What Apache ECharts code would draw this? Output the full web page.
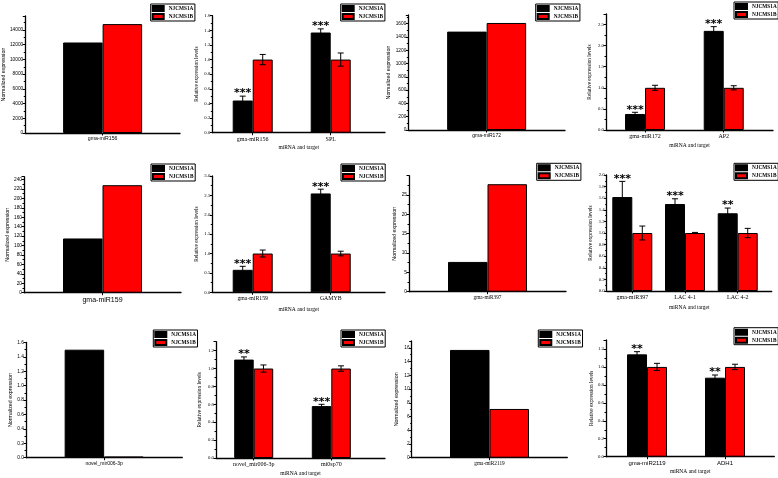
<!DOCTYPE html>
<html><head><meta charset="utf-8">
<script src="https://cdn.jsdelivr.net/npm/echarts@6/dist/echarts.min.js"></script>
<style>html,body{margin:0;padding:0;background:#fff}#c{width:778px;height:478px}</style>
</head><body><div id="c"></div>
<script>
// ---------------- data ----------------
const seriesNames = ['NJCMS1A', 'NJCMS1B'];
const yNameNorm = 'Normalized expression';
const yNameRel = 'Relative expression levels';
const xNameRel = 'miRNA and target';

const p1Cats = ['gma-miR156'];
const p1A = [12300];
const p1B = [14800];

const p2Cats = ['gma-miR156', 'SPL'];
const p2A = [0.44, 1.37];
const p2B = [1.0, 1.0];
const p2ErrA = [0.06, 0.05];
const p2ErrB = [0.07, 0.09];
const p2Stars = ['***', '***'];

const p3Cats = ['gma-miR172'];
const p3A = [1480];
const p3B = [1610];

const p4Cats = ['gma-miR172', 'AP2'];
const p4A = [0.38, 2.35];
const p4B = [1.0, 1.0];
const p4ErrA = [0.04, 0.10];
const p4ErrB = [0.06, 0.05];
const p4Stars = ['***', '***'];

const p5Cats = ['gma-miR159'];
const p5A = [115];
const p5B = [228];

const p6Cats = ['gma-miR159', 'GAMYB'];
const p6A = [0.58, 2.55];
const p6B = [1.0, 1.0];
const p6ErrA = [0.09, 0.11];
const p6ErrB = [0.09, 0.06];
const p6Stars = ['***', '***'];

const p7Cats = ['gma-miR397'];
const p7A = [7.7];
const p7B = [27.8];

const p8Cats = ['gma-miR397', 'LAC 4-1', 'LAC 4-2'];
const p8A = [1.62, 1.50, 1.34];
const p8B = [1.0, 1.0, 1.0];
const p8ErrA = [0.27, 0.09, 0.09];
const p8ErrB = [0.12, 0.01, 0.08];
const p8Stars = ['***', '***', '**'];

const p9Cats = ['novel_mir006-3p'];
const p9A = [1.5];
const p9B = [0.015];

const p10Cats = ['novel_mir006-3p', 'mi0sp70'];
const p10A = [1.10, 0.58];
const p10B = [1.0, 1.0];
const p10ErrA = [0.03, 0.02];
const p10ErrB = [0.04, 0.03];
const p10Stars = ['**', '***'];

const p11Cats = ['gma-miR2119'];
const p11A = [15.7];
const p11B = [7.1];

const p12Cats = ['gma-miR2119', 'ADH1'];
const p12A = [1.14, 0.88];
const p12B = [1.0, 1.0];
const p12ErrA = [0.03, 0.03];
const p12ErrB = [0.04, 0.03];
const p12Stars = ['**', '**'];

const panels = [
  {cats: p1Cats, a: p1A, b: p1B},
  {cats: p2Cats, a: p2A, b: p2B, ea: p2ErrA, eb: p2ErrB, stars: p2Stars},
  {cats: p3Cats, a: p3A, b: p3B},
  {cats: p4Cats, a: p4A, b: p4B, ea: p4ErrA, eb: p4ErrB, stars: p4Stars},
  {cats: p5Cats, a: p5A, b: p5B},
  {cats: p6Cats, a: p6A, b: p6B, ea: p6ErrA, eb: p6ErrB, stars: p6Stars},
  {cats: p7Cats, a: p7A, b: p7B},
  {cats: p8Cats, a: p8A, b: p8B, ea: p8ErrA, eb: p8ErrB, stars: p8Stars},
  {cats: p9Cats, a: p9A, b: p9B},
  {cats: p10Cats, a: p10A, b: p10B, ea: p10ErrA, eb: p10ErrB, stars: p10Stars},
  {cats: p11Cats, a: p11A, b: p11B},
  {cats: p12Cats, a: p12A, b: p12B, ea: p12ErrA, eb: p12ErrB, stars: p12Stars}
];

// ---------------- layout / style ----------------
const SANS = '"Liberation Sans", Arial, sans-serif';
const SERIF = '"Liberation Serif", "Times New Roman", serif';
const layout = [
  {l:23,   t:16,    r:180,   b:133,   x0:0,     x1:2,     yMax:15900, yInt:2000, dec:0, hideMax:true,  bw:39.5, rel:false, yGap:12.5, catF:5.2, catSerif:false, lg:[150.7,4]},
  {l:212.3,t:15.7,  r:385,   b:132.7, x0:0.482, x1:2.696, yMax:1.6,   yInt:0.2,  dec:1, hideMax:false, bw:20,   rel:true,  yGap:13,   catF:6,   catSerif:true,  xGap:12,  lg:[340.7,4]},
  {l:408.3,t:15,    r:565,   b:130,   x0:0,     x1:2,     yMax:1730,  yInt:200,  dec:0, hideMax:true,  bw:39.5, rel:false, yGap:17,   catF:5,   catSerif:false, lg:[535.7,4]},
  {l:606,  t:14,    r:773,   b:130,   x0:0.504, x1:2.626, yMax:2.75,  yInt:0.5,  dec:1, hideMax:true,  bw:20,   rel:true,  yGap:13.5, catF:6,   catSerif:true,  xGap:12.5,lg:[734,2]},
  {l:24,   t:176.7, r:181,   b:292.7, x0:0,     x1:2,     yMax:246,   yInt:20,   dec:0, hideMax:true,  bw:39.5, rel:false, yGap:14,   catF:7,   catSerif:false, lg:[151,164]},
  {l:212.3,t:176,   r:385,   b:292.3, x0:0.482, x1:2.696, yMax:3,     yInt:0.5,  dec:1, hideMax:false, bw:20,   rel:true,  yGap:13,   catF:5.8, catSerif:true,  xGap:14.5,lg:[341,164]},
  {l:409,  t:175.7, r:566,   b:291.7, x0:0,     x1:2,     yMax:30,    yInt:5,    dec:0, hideMax:true,  bw:39.5, rel:false, yGap:11.5, catF:5.3, catSerif:true,  lg:[536.7,163.3]},
  {l:606.7,t:175,   r:771.7, b:291,   x0:0.514, x1:3.645, yMax:2,     yInt:0.2,  dec:1, hideMax:false, bw:20,   rel:true,  yGap:14,   catF:6,   catSerif:true,  xGap:13.5,lg:[734,163.3]},
  {l:26,   t:342.5, r:182.3, b:457.7, x0:0,     x1:2,     yMax:1.6,   yInt:0.2,  dec:1, hideMax:false, bw:39.5, rel:false, yGap:11.5, catF:5,   catSerif:false, lg:[153.3,330]},
  {l:216,  t:341.7, r:385,   b:458.3, x0:0.514, x1:2.692, yMax:1.3,   yInt:0.2,  dec:1, hideMax:true,  bw:19.5, rel:true,  yGap:13.5, catF:6,   catSerif:true,  xGap:13,  lg:[341,330]},
  {l:411.7,t:341,   r:567.3, b:457.7, x0:0,     x1:2,     yMax:17,    yInt:2,    dec:0, hideMax:true,  bw:39.5, rel:false, yGap:12.5, catF:5.3, catSerif:true,  lg:[538.3,330]},
  {l:606,  t:340,   r:774.3, b:456.7, x0:0.474, x1:2.632, yMax:1.3,   yInt:0.2,  dec:1, hideMax:true,  bw:20,   rel:true,  yGap:12,   catF:6,   catSerif:false, xGap:12,  lg:[734,327.7]}
];

const option = {
  backgroundColor: '#ffffff',
  animation: false,
  grid: [], xAxis: [], yAxis: [], legend: [], series: []
};

panels.forEach((p, i) => {
  const L = layout[i];
  const ff = L.rel ? SERIF : SANS;
  const centers = p.cats.map((c, k) => k + 1);
  option.grid.push({left: L.l, top: L.t, width: L.r - L.l, height: L.b - L.t, containLabel: false});
  option.xAxis.push({
    type: 'value', gridIndex: i, min: L.x0, max: L.x1,
    name: L.rel ? xNameRel : '', nameLocation: 'middle', nameGap: L.xGap || 10,
    nameTextStyle: {fontFamily: SERIF, fontSize: 5.5, color: '#000'},
    axisLine: {show: true, onZero: false, lineStyle: {color: '#000', width: 1.3}},
    axisTick: {show: true, customValues: centers, length: 2.5, lineStyle: {color: '#000', width: 1}},
    axisLabel: {show: true, customValues: centers, margin: 3.5,
      formatter: v => p.cats[Math.round(v) - 1] || '',
      fontFamily: L.catSerif ? SERIF : SANS, fontSize: L.catF, color: '#000'},
    splitLine: {show: false}
  });
  option.yAxis.push({
    type: 'value', gridIndex: i, min: 0, max: L.yMax, interval: L.yInt,
    name: L.rel ? yNameRel : yNameNorm, nameLocation: 'middle', nameGap: L.yGap,
    nameTextStyle: {fontFamily: ff, fontSize: 5.3, color: '#000'},
    axisLine: {show: true, lineStyle: {color: '#000', width: 1.3}},
    axisTick: {show: true, length: 2.5, lineStyle: {color: '#000', width: 1}},
    minorTick: {show: true, splitNumber: 2, length: 1.5, lineStyle: {color: '#000', width: 1}},
    axisLabel: {fontFamily: ff, fontSize: 4.8, color: '#000', margin: 2,
      showMaxLabel: L.hideMax ? false : true,
      formatter: v => Number(v).toFixed(L.dec)},
    splitLine: {show: false}
  });
  option.legend.push({
    data: seriesNames, left: L.lg[0], top: L.lg[1], orient: 'vertical',
    icon: 'rect', itemWidth: 11, itemHeight: 5, itemGap: 1,
    padding: [1, 1.5, 1, 1], borderColor: '#000', borderWidth: 1, selectedMode: false,
    textStyle: {fontFamily: SERIF, fontWeight: 'bold', fontSize: 5.3, color: '#000', lineHeight: 5.5}
  });
  option.series.push({
    type: 'bar', name: seriesNames[0], xAxisIndex: i, yAxisIndex: i,
    data: p.a.map((v, k) => [k + 1, v]), barWidth: L.bw, barGap: '0%',
    itemStyle: {color: '#000000', borderColor: '#000', borderWidth: 1}
  });
  option.series.push({
    type: 'bar', name: seriesNames[1], xAxisIndex: i, yAxisIndex: i,
    data: p.b.map((v, k) => [k + 1, v]), barWidth: L.bw, barGap: '0%',
    itemStyle: {color: '#ff0000', borderColor: '#000', borderWidth: 1}
  });
  if (p.ea) {
    const items = [];
    p.a.forEach((v, k) => {
      items.push([k + 1, p.a[k], p.ea[k], -1]);
      items.push([k + 1, p.b[k], p.eb[k], 1]);
    });
    option.series.push({
      type: 'custom', name: 'err' + i, xAxisIndex: i, yAxisIndex: i, z: 5, silent: true,
      data: items,
      renderItem: (params, api) => {
        const x = api.value(0), v = api.value(1), e = api.value(2), side = api.value(3);
        const cx = api.coord([x, v])[0] + side * L.bw / 2;
        const yT = api.coord([x, v + e])[1];
        const yB = api.coord([x, v - e])[1];
        const cap = 3;
        const st = {stroke: '#000', lineWidth: 1};
        const children = [
          {type: 'line', shape: {x1: cx, y1: yT, x2: cx, y2: yB}, style: st},
          {type: 'line', shape: {x1: cx - cap, y1: yT, x2: cx + cap, y2: yT}, style: st},
          {type: 'line', shape: {x1: cx - cap, y1: yB, x2: cx + cap, y2: yB}, style: st}
        ];
        const s = side < 0 ? (p.stars[Math.floor(params.dataIndex / 2)] || '') : '';
        if (s) {
          children.push({type: 'text', style: {text: s, x: cx, y: yT + 3, align: 'center', verticalAlign: 'bottom',
            font: 'bold 11px "DejaVu Sans"', fill: '#000'}});
        }
        return {type: 'group', children: children};
      }
    });
  }
});

const chart = echarts.init(document.getElementById('c'), null, {renderer: 'canvas'});
chart.setOption(option);
</script>
</body></html>
